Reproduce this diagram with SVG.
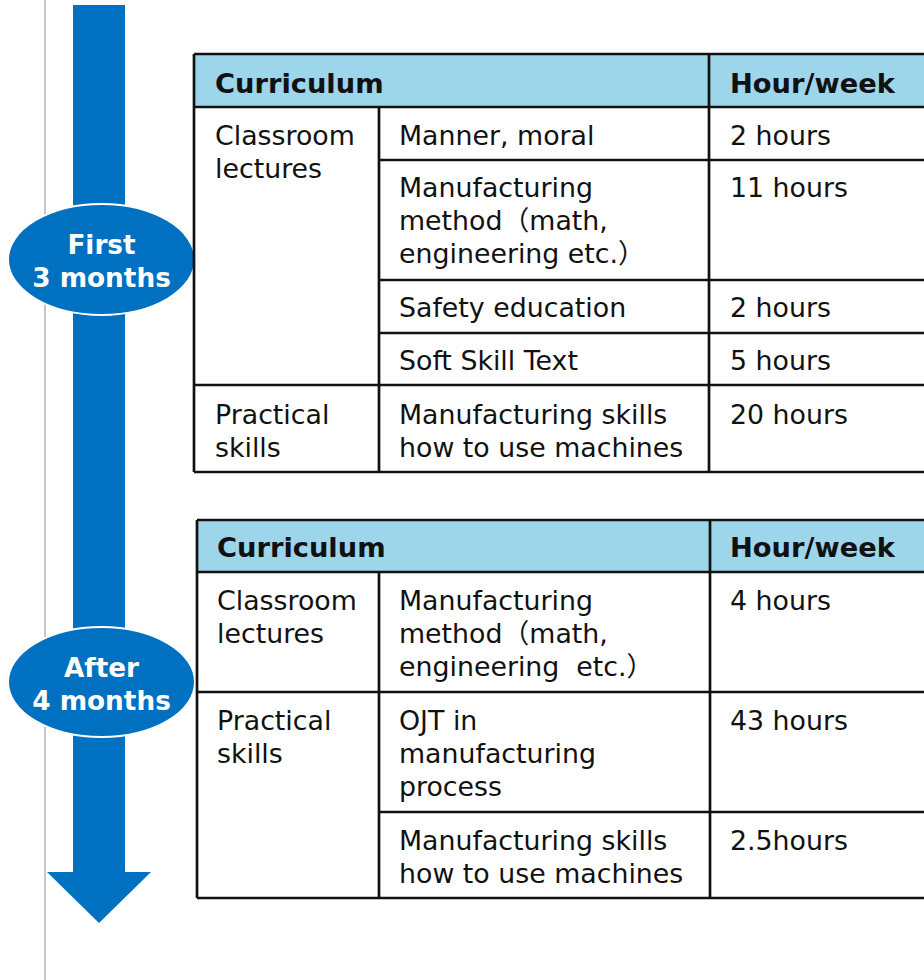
<svg xmlns="http://www.w3.org/2000/svg" width="924" height="980" viewBox="0 0 924 980">
<style>
.t{font-family:"DejaVu Sans","Noto Sans CJK JP",sans-serif;font-size:26.8px;fill:#111;white-space:pre}
.b{font-weight:bold;font-size:27.3px}
.w{fill:#fff;font-weight:bold;text-anchor:middle;font-size:26.3px}
.hdr{fill:#9DD5EA}
.ln{stroke:#111;stroke-width:2.7;fill:none}
.oval{fill:#0070C0;stroke:#fff;stroke-width:2}
</style>
<rect width="924" height="980" fill="#fff"/>
<line x1="45" y1="0" x2="45" y2="980" stroke="#c6c6c6" stroke-width="2"/>
<g id="timeline">
<polygon points="73,5 125,5 125,872 151,872 99,923 47,872 73,872" fill="#0070C0"/>
</g>
<g id="first">
<ellipse class="oval" cx="101.5" cy="259.5" rx="93.5" ry="55.5"/>
<text class="t w" x="101.5" y="254">First</text>
<text class="t w" x="101.5" y="287">3 months</text>
</g>
<g id="after">
<ellipse class="oval" cx="101.5" cy="682" rx="93.5" ry="55"/>
<text class="t w" x="101.5" y="677">After</text>
<text class="t w" x="101.5" y="710">4 months</text>
</g>
<g id="table1">
<rect class="hdr" x="194" y="54" width="740" height="53"/>
<path class="ln" d="M194,54 H934 M194,107 H934 M379,160 H934 M379,280 H934 M379,333 H934 M194,385 H934 M194,472 H934 M194,54 V472 M379,107 V472 M709,54 V472"/>
<text class="t b" x="215" y="93">Curriculum</text>
<text class="t b" x="730" y="93">Hour/week</text>
<text class="t" x="215" y="145">Classroom</text>
<text class="t" x="215" y="178">lectures</text>
<text class="t" x="399" y="145">Manner, moral</text>
<text class="t" x="730" y="145">2 hours</text>
<text class="t" x="399" y="197">Manufacturing</text>
<text class="t" x="399" y="230">method（math,</text>
<text class="t" x="399" y="263">engineering etc.）</text>
<text class="t" x="730" y="197">11 hours</text>
<text class="t" x="399" y="317">Safety education</text>
<text class="t" x="730" y="317">2 hours</text>
<text class="t" x="399" y="370">Soft Skill Text</text>
<text class="t" x="730" y="370">5 hours</text>
<text class="t" x="215" y="424">Practical</text>
<text class="t" x="215" y="457">skills</text>
<text class="t" x="399" y="424">Manufacturing skills</text>
<text class="t" x="399" y="457">how to use machines</text>
<text class="t" x="730" y="424">20 hours</text>
</g>
<g id="table2">
<rect class="hdr" x="197" y="520" width="740" height="52"/>
<path class="ln" d="M197,520 H934 M197,572 H934 M197,692 H934 M379,812 H934 M197,898 H934 M197,520 V898 M379,572 V898 M710,520 V898"/>
<text class="t b" x="217" y="557">Curriculum</text>
<text class="t b" x="730" y="557">Hour/week</text>
<text class="t" x="217" y="610">Classroom</text>
<text class="t" x="217" y="643">lectures</text>
<text class="t" x="399" y="610">Manufacturing</text>
<text class="t" x="399" y="643">method（math,</text>
<text class="t" x="399" y="676">engineering  etc.）</text>
<text class="t" x="730" y="610">4 hours</text>
<text class="t" x="217" y="730">Practical</text>
<text class="t" x="217" y="763">skills</text>
<text class="t" x="399" y="730">OJT in</text>
<text class="t" x="399" y="763">manufacturing</text>
<text class="t" x="399" y="796">process</text>
<text class="t" x="730" y="730">43 hours</text>
<text class="t" x="399" y="850">Manufacturing skills</text>
<text class="t" x="399" y="883">how to use machines</text>
<text class="t" x="730" y="850">2.5hours</text>
</g>
</svg>
